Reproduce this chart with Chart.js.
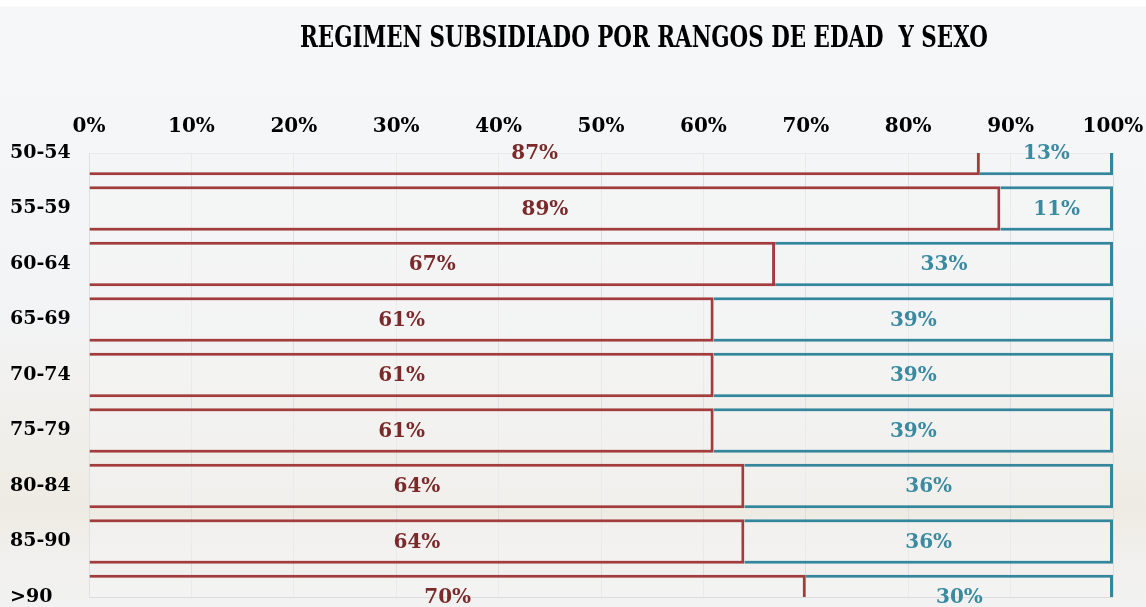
<!DOCTYPE html>
<html>
<head>
<meta charset="utf-8">
<script src="https://cdn.jsdelivr.net/npm/chart.js@4.4.1/dist/chart.umd.min.js"></script>
<style>
  html, body { margin: 0; padding: 0; }
  body {
    width: 1146px; height: 607px; overflow: hidden;
    background: linear-gradient(to bottom, #ffffff 0px, #ffffff 6px, #f5f7f9 7px, #f3f4f6 300px, #efede7 470px, #eeebe3 510px, #f1f0ee 560px, #f2f2f2 607px);
  }
  canvas { display: block; }
</style>
</head>
<body>
<canvas id="regimenChart" width="1146" height="607"></canvas>
<script>
  // Data
  const categories = ['50-54', '55-59', '60-64', '65-69', '70-74', '75-79', '80-84', '85-90', '>90'];
  const mujeres = [87, 89, 67, 61, 61, 61, 64, 64, 70];
  const hombres = [13, 11, 33, 39, 39, 39, 36, 36, 30];
  const xTickStep = 10;
  const chartTitle = 'REGIMEN SUBSIDIADO POR RANGOS DE EDAD  Y SEXO';

  const serifFont = "'DejaVu Serif', 'Liberation Serif', serif";

  // Title, drawn a bit right of the plot centre and squeezed like the original
  const titlePlugin = {
    id: 'titlePlugin',
    afterDraw(chart) {
      const ctx = chart.ctx;
      ctx.save();
      ctx.font = "bold 30px 'DejaVu Serif Condensed', 'DejaVu Serif', serif";
      ctx.fillStyle = '#000';
      ctx.textAlign = 'center';
      ctx.textBaseline = 'middle';
      const w = ctx.measureText(chartTitle).width;
      const sx = Math.min(1, 688 / w);
      ctx.translate(644, 39);
      ctx.scale(sx, 1);
      ctx.fillText(chartTitle, 0, 0);
      ctx.restore();
    }
  };

  // Draw the percentage in the middle of every segment
  const segmentLabels = {
    id: 'segmentLabels',
    afterDatasetsDraw(chart) {
      const ctx = chart.ctx;
      ctx.save();
      ctx.font = 'bold 20px ' + serifFont;
      ctx.textAlign = 'center';
      ctx.textBaseline = 'middle';
      chart.data.datasets.forEach((ds, i) => {
        const meta = chart.getDatasetMeta(i);
        ctx.fillStyle = ds.labelColor;
        meta.data.forEach((bar, j) => {
          const p = bar.getProps(['x', 'y', 'base'], true);
          ctx.fillText(ds.data[j] + '%', (p.x + p.base) / 2, p.y + 1);
        });
      });
      ctx.restore();
    }
  };

  // Bottom edge of the plot area
  const plotFrame = {
    id: 'plotFrame',
    beforeDatasetsDraw(chart) {
      const a = chart.chartArea;
      const ctx = chart.ctx;
      ctx.save();
      ctx.strokeStyle = '#dcdcdc';
      ctx.lineWidth = 1;
      ctx.beginPath();
      ctx.moveTo(a.left, a.bottom + 0.5);
      ctx.lineTo(a.right, a.bottom + 0.5);
      ctx.stroke();
      ctx.restore();
    }
  };

  const ctx = document.getElementById('regimenChart').getContext('2d');
  const regimenChart = new Chart(ctx, {
    type: 'bar',
    data: {
      labels: categories,
      datasets: [
        {
          label: 'Mujeres',
          data: mujeres,
          backgroundColor: 'rgba(244, 244, 244, 0.55)',
          borderColor: '#a33c3c',
          borderWidth: 3,
          labelColor: '#7a2a2a',
          clip: 0
        },
        {
          label: 'Hombres',
          data: hombres,
          backgroundColor: 'rgba(244, 244, 244, 0.55)',
          borderColor: '#33869c',
          borderWidth: 3,
          labelColor: '#3a8aa0',
          clip: 0
        }
      ]
    },
    options: {
      indexAxis: 'y',
      responsive: false,
      animation: false,
      categoryPercentage: 1,
      barPercentage: 0.8,
      layout: { padding: { left: 10, right: 33, top: 53, bottom: 10 } },
      scales: {
        x: {
          position: 'top',
          stacked: true,
          min: 0,
          max: 100,
          afterFit: s => { s.height = 100; s.paddingLeft = 0; s.paddingRight = 0; },
          grid: { color: '#dedede', drawTicks: false },
          border: { color: '#dedede' },
          ticks: {
            stepSize: xTickStep,
            padding: 14,
            color: '#000',
            font: { family: serifFont, size: 20, weight: 'bold' },
            callback: v => v + '%'
          }
        },
        y: {
          stacked: true,
          offset: false,
          afterFit: s => { s.width = 79; s.paddingTop = 0; s.paddingBottom = 0; },
          grid: { display: false },
          border: { display: false },
          ticks: {
            crossAlign: 'far',
            padding: 8,
            color: '#000',
            font: { family: serifFont, size: 19, weight: 'bold' }
          }
        }
      },
      plugins: {
        legend: { display: false },
        tooltip: { enabled: false },
        title: { display: false }
      }
    },
    plugins: [segmentLabels, plotFrame, titlePlugin]
  });
</script>
</body>
</html>
